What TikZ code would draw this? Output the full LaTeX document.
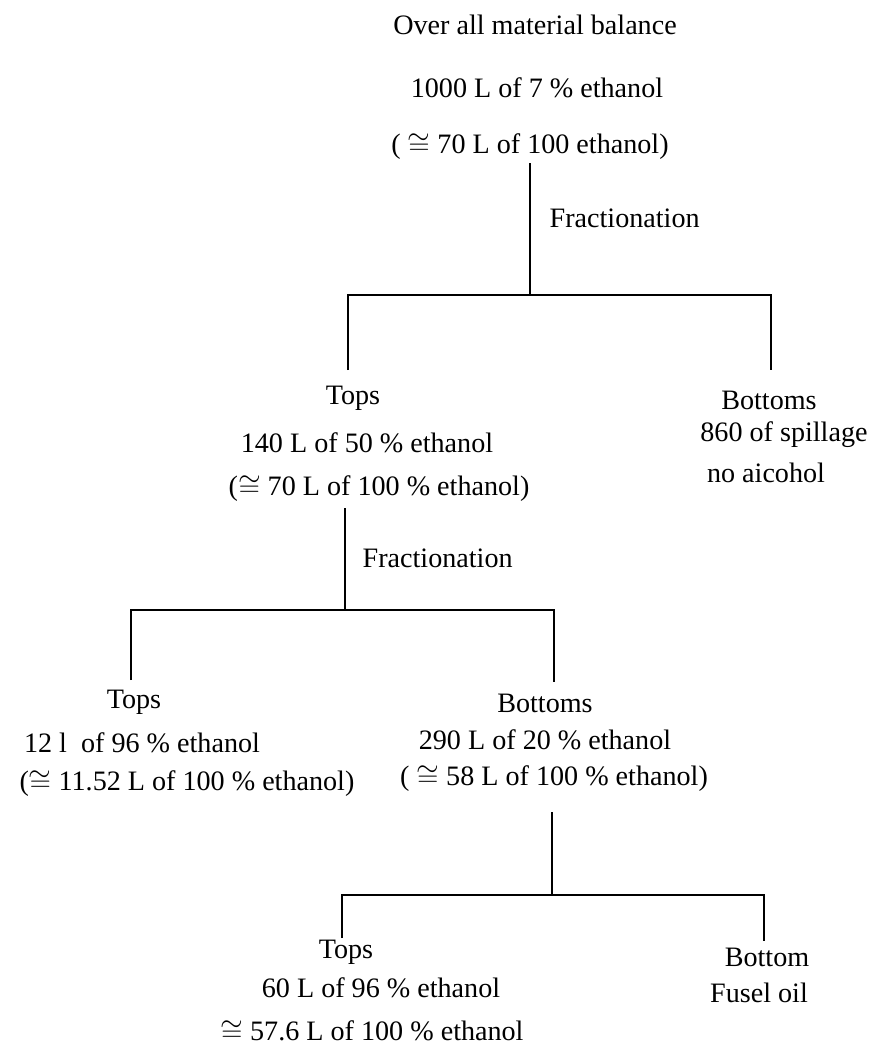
\documentclass[tikz,border=0pt]{standalone}
\usepackage{fontspec}
\setmainfont{Liberation Serif}
\usepackage{tikz}

\begin{document}
\begin{tikzpicture}[x=0.025cm,y=-0.025cm,font=\fontsize{20}{24}\selectfont,inner sep=1pt,link/.style={line width=2pt}]
\useasboundingbox (0,0) rectangle (876,1046);
\node (title) at (535,25) {Over all material balance};
\node (feed) at (537,88) {1000 L of 7 \% ethanol};
\node (feedeq) at (530,147) {( $\cong$ 70 L of 100 ethanol)};
\node [anchor=west] (fracA) at (548,218) {Fractionation};
\node (topsA) at (353,398) {Tops};
\node (topsAvol) at (367,443) {140 L of 50 \% ethanol};
\node (topsAeq) at (379,489) {($\cong$ 70 L of 100 \% ethanol)};
\node (botA) at (769,400) {Bottoms};
\node (botAvol) at (784,435) {860 of spillage};
\node (botAeq) at (766,473) {no aicohol};
\node [anchor=west] (fracB) at (361,558) {Fractionation};
\node (topsB) at (134,702) {Tops};
\node (topsBvol) at (142,743) {12 l~ of 96 \% ethanol};
\node (topsBeq) at (187,784) {($\cong$ 11.52 L of 100 \% ethanol)};
\node (botB) at (545,703) {Bottoms};
\node (botBvol) at (545,740) {290 L of 20 \% ethanol};
\node (botBeq) at (554,779) {( $\cong$ 58 L of 100 \% ethanol)};
\node (topsC) at (346,952) {Tops};
\node (topsCvol) at (381,988) {60 L of 96 \% ethanol};
\node (topsCeq) at (372,1031) {$\cong$ 57.6 L of 100 \% ethanol};
\node (botC) at (767,957) {Bottom};
\node (botCvol) at (759,993) {Fusel oil};
\coordinate (s1) at (530,163); \coordinate (j1) at (530,295);
\coordinate (l1) at (348,370); \coordinate (r1) at (771,370);
\coordinate (s2) at (345,508); \coordinate (j2) at (345,610);
\coordinate (l2) at (131,680); \coordinate (r2) at (554,682);
\coordinate (s3) at (552,812); \coordinate (j3) at (552,895);
\coordinate (l3) at (342,938); \coordinate (r3) at (764,941);
\foreach \i in {1,2,3} {
  \draw [link] (s\i) -- (j\i);
  \draw [link] (l\i) |- (j\i) -| (r\i);
}
\end{tikzpicture}
\end{document}
